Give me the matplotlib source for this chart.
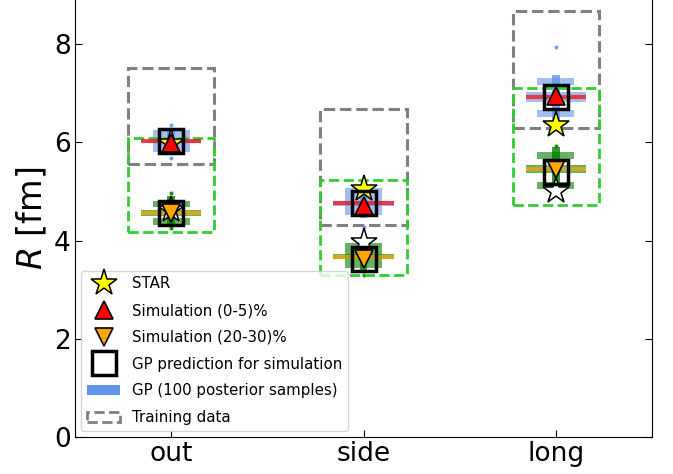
import matplotlib
matplotlib.use('Agg')
import matplotlib.pyplot as plt
from matplotlib.patches import Rectangle, Patch
from matplotlib.lines import Line2D

# values
categories = ['out', 'side', 'long']

star_central = [5.98, 5.05, 6.35]
star_peripheral = [4.62, 3.98, 5.02]
sim_central = [5.98, 4.70, 6.95]
sim_peripheral = [4.56, 3.62, 5.46]
gp_central = [6.02, 4.76, 6.92]
gp_peripheral = [4.56, 3.62, 5.39]

# training data ranges (low, high)
train_central = [(5.55, 7.52), (4.32, 6.69), (6.29, 8.67)]
train_peripheral = [(4.18, 6.08), (3.30, 5.23), (4.72, 7.10)]

# GP posterior samples, summarised as letter-value boxes (low, high, level)
gp_median_central = [6.02, 4.76, 6.93]
gp_boxes_central = [
    [(5.99, 6.05, 0), (5.80, 6.25, 1), (5.74, 6.30, 2)],
    [(4.71, 4.81, 0), (4.52, 5.07, 1), (4.45, 5.10, 2)],
    [(6.83, 7.03, 0), (7.17, 7.31, 1), (6.52, 6.65, 1), (6.45, 7.38, 2)],
]
gp_outliers_central = [[6.35, 5.69], [4.28], [7.94]]

gp_median_peripheral = [4.56, 3.67, 5.45]
gp_boxes_peripheral = [
    [(4.50, 4.62, 0), (4.69, 4.81, 1), (4.32, 4.46, 1), (4.28, 4.90, 2)],
    [(3.62, 3.72, 0), (3.44, 3.95, 1), (3.40, 3.98, 2)],
    [(5.37, 5.54, 0), (5.67, 5.81, 1), (5.06, 5.20, 1), (5.00, 5.90, 2)],
]
gp_outliers_peripheral = [[4.97, 4.26], [3.30], [5.92]]

HALF_W = {0: 0.156, 1: 0.096, 2: 0.02}
ALPHA = {0: 0.6, 1: 0.6, 2: 0.8}


def draw_samples(ax, x, median, boxes, outliers, color, line_color):
    for lo, hi, lev in boxes:
        w = HALF_W[lev]
        ax.add_patch(Rectangle((x - w, lo), 2 * w, hi - lo, facecolor=color,
                               alpha=ALPHA[lev], lw=0, zorder=1))
    ax.hlines(median, x - HALF_W[0], x + HALF_W[0], color=line_color,
              lw=3, alpha=0.7, zorder=2)
    ax.plot([x] * len(outliers), outliers, 'o', ms=2, color=color,
            alpha=0.8, zorder=1)


def main():
    plt.rcParams['font.family'] = ['DejaVu Sans']
    plt.rcParams['mathtext.fontset'] = 'dejavusans'

    fig = plt.figure(figsize=(6.73, 4.74), dpi=100)
    ax = fig.add_axes([75 / 673, 37 / 474, 577 / 673, 437 / 474])

    xs = list(range(len(categories)))
    box_hw = 0.224
    for i, x in enumerate(xs):
        lo, hi = train_central[i]
        ax.add_patch(Rectangle((x - box_hw, lo), 2 * box_hw, hi - lo, fill=False,
                               edgecolor='gray', ls='--', lw=2.2, zorder=1.5))
        lo, hi = train_peripheral[i]
        ax.add_patch(Rectangle((x - box_hw, lo), 2 * box_hw, hi - lo, fill=False,
                               edgecolor='limegreen', ls='--', lw=2, zorder=1.6))
        draw_samples(ax, x, gp_median_central[i], gp_boxes_central[i],
                     gp_outliers_central[i], 'cornflowerblue', 'red')
        draw_samples(ax, x, gp_median_peripheral[i], gp_boxes_peripheral[i],
                     gp_outliers_peripheral[i], 'green', 'orange')

    ax.plot(xs, star_central, '*', ms=20, mfc='yellow', mec='black', mew=1.1, ls='none', zorder=3)
    ax.plot(xs, star_peripheral, '*', ms=20, mfc='white', mec='black', mew=1.1, ls='none', zorder=3)
    ax.plot(xs, sim_central, '^', ms=13, mfc='red', mec='black', mew=1.2, ls='none', zorder=4)
    ax.plot(xs, sim_peripheral, 'v', ms=13, mfc='orange', mec='black', mew=1.2, ls='none', zorder=4)
    ax.plot(xs, gp_central, 's', ms=17, mfc='none', mec='black', mew=2.5, ls='none', zorder=5)
    ax.plot(xs, gp_peripheral, 's', ms=17, mfc='none', mec='black', mew=2.5, ls='none', zorder=5)

    ax.set_xlim(-0.5, 2.5)
    ax.set_ylim(0, 8.9)
    ax.set_xticks(xs)
    ax.set_xticklabels(categories)
    ax.set_yticks([0, 2, 4, 6, 8])
    ax.tick_params(direction='in', right=True, labelsize=19, pad=3, length=5)
    ax.spines['top'].set_visible(False)
    ax.set_ylabel('$R$ [fm]', fontsize=24, labelpad=3)

    handles = [
        Line2D([], [], marker='*', ls='none', ms=20, mfc='yellow', mec='black', mew=1.1),
        Line2D([], [], marker='^', ls='none', ms=13, mfc='red', mec='black', mew=1.2),
        Line2D([], [], marker='v', ls='none', ms=13, mfc='orange', mec='black', mew=1.2),
        Line2D([], [], marker='s', ls='none', ms=17, mfc='white', mec='black', mew=2.5),
        Patch(facecolor='cornflowerblue'),
        Patch(facecolor='white', edgecolor='gray', ls='--', lw=2),
    ]
    labels = ['STAR', 'Simulation (0-5)%', 'Simulation (20-30)%',
              'GP prediction for simulation', 'GP (100 posterior samples)',
              'Training data']
    ax.legend(handles, labels, loc='lower left', fontsize=10.8, numpoints=1,
              borderaxespad=0.4, labelspacing=0.78, handlelength=2.2)

    fig.savefig('out.png', dpi=100)


if __name__ == '__main__':
    main()
